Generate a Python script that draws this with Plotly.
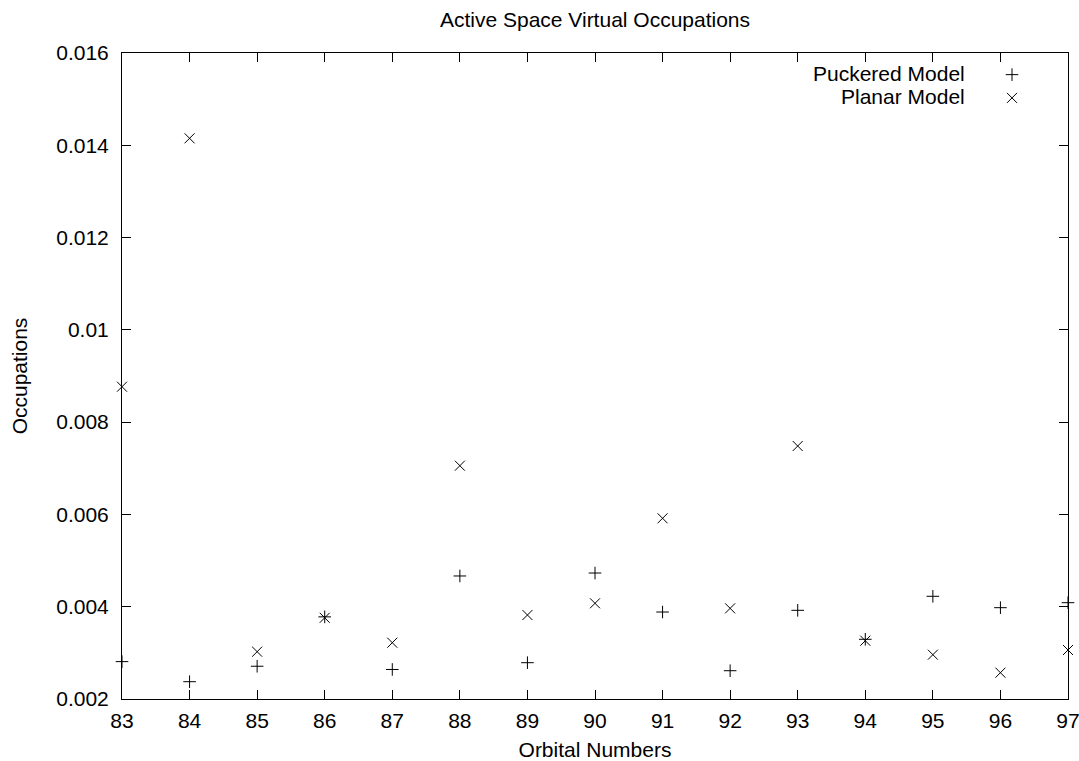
import plotly.graph_objects as go

orbitals = list(range(83, 98))
puckered = [0.00281, 0.002375, 0.00271, 0.00378, 0.00264, 0.004666, 0.002787, 0.00473,
            0.003885, 0.002613, 0.003922, 0.003294, 0.004226, 0.003979, 0.004087]
planar = [0.008768, 0.014151, 0.003025, 0.00376, 0.00322, 0.007056, 0.00382, 0.004074,
          0.005916, 0.003965, 0.007483, 0.003263, 0.00296, 0.00257, 0.003062]
series_names = ["Puckered Model", "Planar Model"]
xticks = list(range(83, 98))
yticks = [0.002, 0.004, 0.006, 0.008, 0.01, 0.012, 0.014, 0.016]
yticklabels = ["0.002", "0.004", "0.006", "0.008", "0.01", "0.012", "0.014", "0.016"]

FONT = "Liberation Sans, Arial, Helvetica, sans-serif"

W, H = 1079, 761
L, R, T, B = 122, 11, 53, 62

fig = go.Figure()
fig.add_trace(go.Scatter(x=orbitals, y=puckered, mode="markers", name="",
                         cliponaxis=False,
                         marker=dict(symbol="cross-thin-open", size=9, color="black",
                                     line=dict(color="black", width=1))))
fig.add_trace(go.Scatter(x=orbitals, y=planar, mode="markers", name="",
                         cliponaxis=False,
                         marker=dict(symbol="x-thin-open", size=10, color="black",
                                     line=dict(color="black", width=1))))

axis_common = dict(showline=True, linecolor="black", linewidth=1, mirror="ticks",
                   ticks="inside", ticklen=9, tickcolor="black", tickwidth=1,
                   showgrid=False, zeroline=False, ticklabeloverflow="allow",
                   tickfont=dict(family=FONT, size=21, color="black"))

fig.update_xaxes(range=[83, 97], tickvals=xticks, ticktext=[str(t) for t in xticks],
                 ticklabelstandoff=3,
                 title=dict(text="Orbital Numbers", font=dict(family=FONT, size=21, color="black"),
                            standoff=13),
                 **axis_common)
fig.update_yaxes(range=[0.002, 0.016], tickvals=yticks, ticktext=yticklabels,
                 ticklabelstandoff=8,
                 title=dict(text="Occupations", font=dict(family=FONT, size=21, color="black"),
                            standoff=22),
                 **axis_common)

# legend text labels (gnuplot style: text left of symbol)
for i, nm in enumerate(series_names):
    fig.add_annotation(xref="paper", yref="paper", x=(967 - L) / (W - L - R),
                       y=(699 - (73 + 23 * i)) / (H - T - B), xanchor="right", yanchor="middle",
                       text=nm, showarrow=False,
                       font=dict(family=FONT, size=21, color="black"))

fig.update_layout(
    width=W, height=H,
    margin=dict(l=L, r=R, t=T, b=B, autoexpand=False),
    paper_bgcolor="white", plot_bgcolor="white",
    font=dict(family=FONT, size=21, color="black"),
    title=dict(text="Active Space Virtual Occupations", x=595 / W,
               xanchor="center", y=1 - 20 / H, yanchor="middle",
               font=dict(family=FONT, size=21, color="black")),
    showlegend=True,
    hovermode=False,
    legend=dict(x=(1012 - 20 - L) / (W - L - R), xanchor="left",
                y=(699 - 58) / (H - T - B), yanchor="top",
                bgcolor="rgba(0,0,0,0)", font=dict(family=FONT, size=15.6),
                tracegroupgap=0),
)

fig.write_html("out.html", config={"displayModeBar": False})

# remove the default page margin so the figure fills the window exactly
with open("out.html", "r", encoding="utf-8") as f:
    html = f.read()
html = html.replace("<body>", '<body style="margin:0;overflow:hidden">', 1)
with open("out.html", "w", encoding="utf-8") as f:
    f.write(html)
